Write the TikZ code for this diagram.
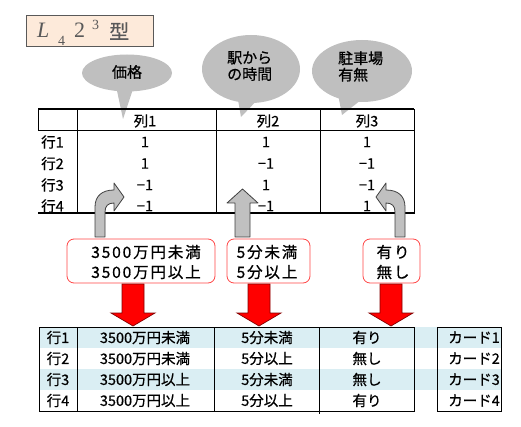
\documentclass[tikz,border=0pt]{standalone}
\usepackage{fontspec}
\setmainfont{Noto Sans CJK JP}[RawFeature={embolden=0.6}]
\newfontfamily\jpspaced[LetterSpace=12,RawFeature={embolden=0.8}]{Noto Sans CJK JP}
\newfontfamily\titlefont{Liberation Serif}
\definecolor{calloutgray}{RGB}{191,191,191}
\definecolor{arrowgray}{RGB}{192,192,192}
\definecolor{titlefill}{RGB}{253,234,218}
\definecolor{titleline}{RGB}{89,89,89}
\definecolor{stripe}{RGB}{218,238,243}
\definecolor{boxred}{RGB}{255,70,70}
\definecolor{darkred}{RGB}{130,0,0}
\begin{document}
\begin{tikzpicture}[x=1pt,y=-1pt,
  tt/.style={inner sep=0pt, font=\fontsize{14.5}{15}\selectfont},
  bt/.style={inner sep=0pt, font=\fontsize{14.5}{15}\selectfont},
  ct/.style={inner sep=0pt, align=left, font=\fontsize{15}{16.5}\selectfont},
  lbox/.style={draw=boxred, line width=0.8pt, rounded corners=7pt, fill=white, inner sep=0pt},
  lt/.style={inner sep=0pt, align=left, font=\jpspaced\fontsize{15.5}{20}\selectfont},
  garrow/.style={fill=arrowgray, draw=black!75, line width=0.8pt, line join=round},
  rarrow/.style={fill=red, draw=darkred, line width=0.7pt},
  tl/.style={line width=0.7pt},
  tit/.style={inner sep=0pt, text=titleline, anchor=base west},
]
\useasboundingbox (0,0) rectangle (521,427);

% title
\node[draw=titleline, line width=1pt, fill=titlefill, minimum width=127pt, minimum height=31pt, inner sep=0pt, anchor=north west] (title) at (26,15) {};
\node[tit, font=\titlefont\itshape\fontsize{22}{22}\selectfont] (tL) at (37,38) {L};
\node[tit, font=\titlefont\fontsize{14}{14}\selectfont] (t4) at (58,46) {4};
\node[tit, font=\titlefont\fontsize{22}{22}\selectfont] (t2) at (74,38) {2};
\node[tit, font=\titlefont\fontsize{14}{14}\selectfont] (t3) at (92,30) {3};
\node[tit, font=\fontsize{20}{20}\selectfont] (tk) at (109,39) {型};

% callouts
\fill[calloutgray] (127,73) ellipse [x radius=45pt, y radius=18.5pt];
\fill[calloutgray] (116,86) -- (123,119) -- (134,86) -- cycle;
\node[ct] (c1) at (127,72) {価格};
\fill[calloutgray] (251,69) ellipse [x radius=49pt, y radius=34pt];
\fill[calloutgray] (237,94) -- (241,117) -- (263,94) -- cycle;
\node[ct, anchor=north west] (c2) at (227,51) {駅から\\の時間};
\fill[calloutgray] (362,71) ellipse [x radius=50pt, y radius=31pt];
\fill[calloutgray] (338,94) -- (342,115) -- (366,96) -- cycle;
\node[ct, anchor=north west] (c3) at (338,51) {駐車場\\有無};

% top table
\draw[line width=1.5pt] (38,109) -- (414,109);
\draw[tl] (38,130) -- (414,130);
\draw[tl] (38,109) -- (38,130);
\foreach \x in {77,216,320,414} \draw[tl] (\x,109) -- (\x,213);
\draw[line width=2pt] (38,213) -- (415,213);
\node[tt] (h1) at (145,121) {列1};
\node[tt] (h2) at (268,121) {列2};
\node[tt] (h3) at (367,121) {列3};
\foreach \r/\y/\a/\b/\c in {1/142/1/1/1, 2/163.5/1/−1/−1, 3/185/−1/1/−1, 4/206/−1/−1/1}{
  \node[tt, anchor=west] (rl\r) at (41,\y) {行\r};
  \node[tt] (v\r a) at (145,\y) {\a};
  \node[tt] (v\r b) at (266,\y) {\b};
  \node[tt] (v\r c) at (367,\y) {\c};
}

% gray arrows
\draw[garrow] (95,237) -- (95,207) .. controls (95,196) and (102,190) .. (114,190) -- (114,183) -- (124,197) -- (114,211) -- (114,203) .. controls (108,203) and (105,206) .. (105,212) -- (105,237) -- cycle;
\draw[garrow] (235,237) -- (235,203) -- (227,203) -- (242.5,189) -- (258,203) -- (250,203) -- (250,237) -- cycle;
\draw[garrow] (405,237) -- (405,207) .. controls (405,196) and (398,190) .. (386,190) -- (386,183) -- (376,197) -- (386,211) -- (386,203) .. controls (392,203) and (395,206) .. (395,212) -- (395,237) -- cycle;

% label boxes
\node[lbox, minimum width=148pt, minimum height=44pt] (b1) at (141,261) {};
\node[lt] (b1t) at (146,262) {3500万円未満\\3500万円以上};
\node[lbox, minimum width=83pt, minimum height=44pt] (b2) at (268.5,261) {};
\node[lt] (b2t) at (267,262) {5分未満\\5分以上};
\node[lbox, minimum width=57pt, minimum height=44pt] (b3) at (391.5,261) {};
\node[lt] (b3t) at (393,262) {有り\\無し};

% red arrows
\foreach \c in {133,259,391}{
  \draw[rarrow] (\c-11,284) -- (\c-11,313) -- (\c-22,313) -- (\c,326) -- (\c+22,313) -- (\c+11,313) -- (\c+11,284) -- cycle;
}

% bottom table
\fill[stripe] (39,327) rectangle (501,348);
\fill[stripe] (39,369) rectangle (501,390);
\draw[tl] (39,327) rectangle (414,411);
\foreach \x in {77,214} \draw[tl] (\x,327) -- (\x,411);
\draw[tl] (319,327) -- (319,414);
\draw[tl] (437,327) rectangle (501,411);
\foreach \r/\y/\p/\q/\s in {1/337.5/3500万円未満/5分未満/有り, 2/358.5/3500万円未満/5分以上/無し, 3/379.5/3500万円以上/5分未満/無し, 4/400.5/3500万円以上/5分以上/有り}{
  \node[bt] (br\r) at (58,\y) {行\r};
  \node[bt] (bp\r) at (145,\y) {\p};
  \node[bt] (bq\r) at (267,\y) {\q};
  \node[bt] (bs\r) at (367,\y) {\s};
  \node[bt, anchor=east] (card\r) at (500,\y) {カード\r};
}
\end{tikzpicture}
\end{document}
